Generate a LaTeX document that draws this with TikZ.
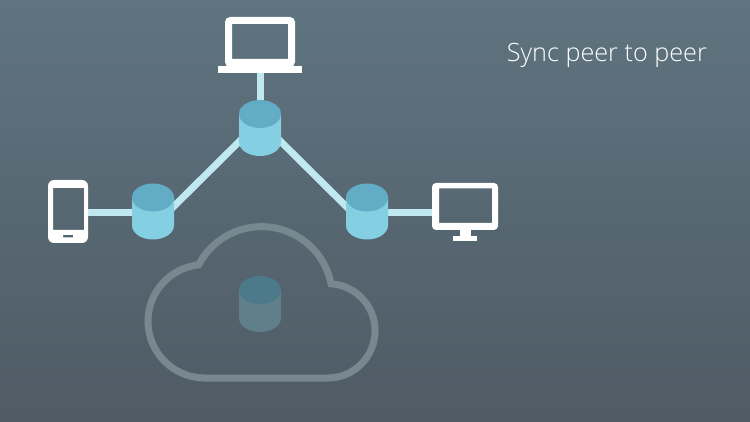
\documentclass[tikz,border=0pt]{standalone}
\usepackage{fontspec}
\setmainfont{Open Sans}[UprightFont=* Light]
\definecolor{bgtop}{HTML}{5F7480}
\definecolor{bgbot}{HTML}{4F5B65}
\definecolor{dbbody}{HTML}{84CFE2}
\definecolor{dbtop}{HTML}{62ACC6}
\definecolor{linkc}{HTML}{BFE8F1}
\definecolor{ghostbody}{HTML}{5F7F8B}
\definecolor{ghosttop}{HTML}{4D7A8A}
\definecolor{cloudc}{HTML}{78888F}
\tikzset{
  link/.style={draw=linkc,line width=7pt},
  device/.style={fill=white,even odd rule,draw=none},
  whitebar/.style={fill=white,draw=none},
  cloudline/.style={draw=cloudc,line width=7pt,miter limit=10},
  anchorpt/.style={inner sep=0pt,minimum width=42pt,minimum height=56pt},
  title/.style={text=white,font=\fontsize{25.2}{30}\selectfont,anchor=base east,inner sep=0pt}
}
% name, x, y(mid), body colour, top colour
\newcommand{\dbcyl}[5]{%
  \node[anchorpt] (#1) at (#2,#3) {};
  \fill[#4] (#2-21,#3-14) -- (#2-21,#3+14) arc[start angle=180,end angle=0,x radius=21,y radius=14] -- (#2+21,#3-14) -- cycle;
  \fill[#5] (#2,#3-14) ellipse[x radius=21,y radius=14];
}
\begin{document}
\begin{tikzpicture}[x=1pt,y=-1pt]
\useasboundingbox (0,0) rectangle (750,422);
\shade[top color=bgtop,bottom color=bgbot] (0,0) rectangle (750,422);
% link ends
\coordinate (hubT) at (260,121);
\coordinate (hubL) at (153,227);
\coordinate (hubR) at (367,227);
\coordinate (midL) at (153,213);
\coordinate (midR) at (367,213);
\coordinate (midT) at (260,114);
\coordinate (phoneEnd) at (86,213);
\coordinate (monitorEnd) at (434,213);
\coordinate (laptopEnd) at (260,72);
\draw[link] (hubT) -- (hubL);
\draw[link] (hubT) -- (hubR);
\draw[link] (phoneEnd) -- (midL);
\draw[link] (midR) -- (monitorEnd);
\draw[link] (laptopEnd) -- (midT);
% databases
\dbcyl{dbT}{260}{128}{dbbody}{dbtop}
\dbcyl{dbL}{153}{211.5}{dbbody}{dbtop}
\dbcyl{dbR}{367}{211.5}{dbbody}{dbtop}
% laptop
\path[device] [rounded corners=5pt] (225,17) rectangle (295,67) [sharp corners] (232,24) rectangle (288,59);
\fill[whitebar] (218,66) rectangle (302,73);
% phone
\path[device] [rounded corners=6pt] (48,180) rectangle (88,243) [sharp corners] (53,188) rectangle (84,230) (63,235) rectangle (73,237.5);
% monitor
\path[device] [rounded corners=4pt] (432,183) rectangle (498,230) [sharp corners] (439,188.5) rectangle (492,223);
\fill[whitebar] (460,229) rectangle (471,237);
\fill[whitebar] (453,236) rectangle (477,241);
% cloud
\begin{scope}[shift={(148,188.8)},x=9.46pt,y=-9.46pt]
\draw[cloudline] (19.35,10.04) .. controls (18.67,6.59) and (15.64,4) .. (12,4)
  .. controls (9.11,4) and (6.6,5.64) .. (5.35,8.04)
  .. controls (2.34,8.36) and (0,10.91) .. (0,14)
  .. controls (0,17.31) and (2.69,20) .. (6,20) -- (19,20)
  .. controls (21.76,20) and (24,17.76) .. (24,15)
  .. controls (24,12.36) and (21.95,10.22) .. (19.35,10.04) -- cycle;
\end{scope}
\dbcyl{dbC}{260}{304}{ghostbody}{ghosttop}
% title
\node[title] (caption) at (707,62) {Sync peer to peer};
\end{tikzpicture}
\end{document}
